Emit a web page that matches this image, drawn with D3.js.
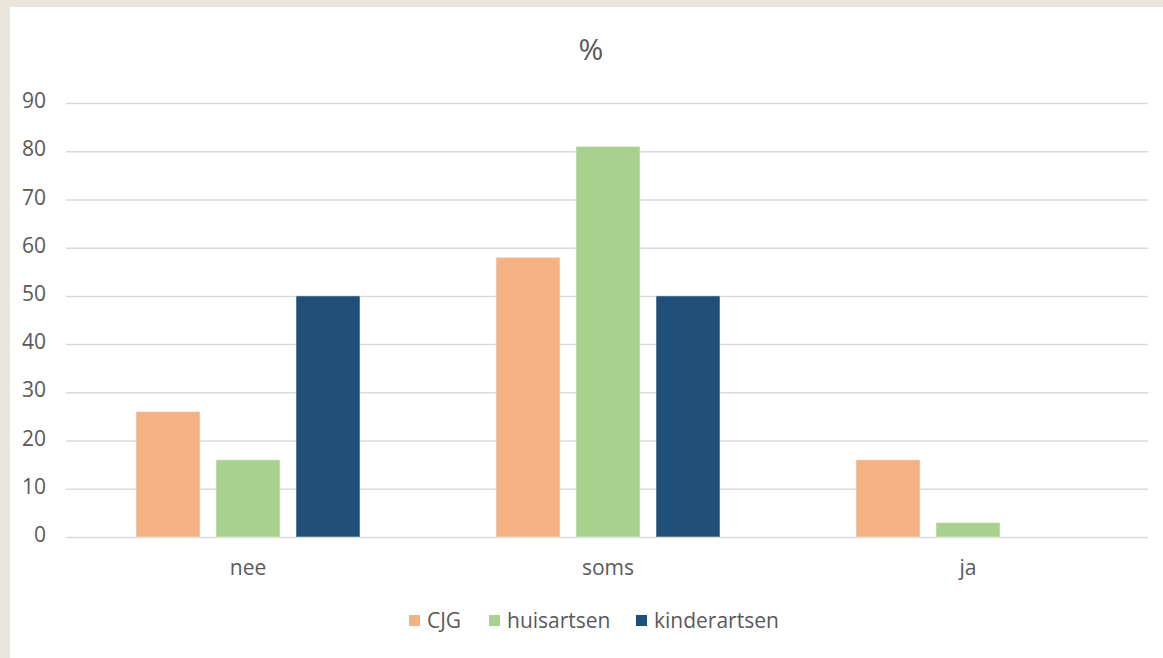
<!DOCTYPE html>
<html>
<head>
<meta charset="utf-8">
<script src="https://cdn.jsdelivr.net/npm/d3@7"></script>
<style>
  html, body { margin: 0; padding: 0; background: #ece5dc; }
  svg { display: block; }
</style>
</head>
<body>
<svg id="chart" width="1163" height="658"></svg>
<script>
  // data
  const categories = ["nee", "soms", "ja"];
  const seriesNames = ["CJG", "huisartsen", "kinderartsen"];
  const cjgValues = [26, 58, 16];
  const huisartsenValues = [16, 81, 3];
  const kinderartsenValues = [50, 50, 0];
  const yTicks = [0, 10, 20, 30, 40, 50, 60, 70, 80, 90];

  const COLORS = {
    CJG: "#f4b183", // orange
    huisartsen: "#a9d18e", // green
    kinderartsen: "#1f4e79", // dark blue
  };
  const TEXT = "#595959";
  const FONT = "'Open Sans', sans-serif";

  const series = [
    { name: "CJG", values: cjgValues },
    { name: "huisartsen", values: huisartsenValues },
    { name: "kinderartsen", values: kinderartsenValues },
  ];

  const svg = d3.select("#chart");

  // white chart panel on beige page
  svg.append("rect")
    .attr("x", 10).attr("y", 7)
    .attr("width", 1163 - 10).attr("height", 658 - 7)
    .attr("fill", "#fff");

  const x0 = d3.scaleBand().domain(categories).range([68, 1148]).padding(0);
  const x1 = d3.scaleBand().domain(seriesNames).range([0, x0.bandwidth()])
    .paddingInner(0.2).paddingOuter(0.85);
  const y = d3.scaleLinear().domain([0, 90]).range([537, 103]);

  // gridlines + y labels
  const yAxis = d3.axisLeft(y).tickValues(yTicks).tickSize(-(1148 - 66));
  const ya = svg.append("g")
    .attr("transform", "translate(66,0)")
    .call(yAxis);
  ya.select(".domain").remove();
  ya.selectAll(".tick line").attr("stroke", "#d9d9d9").attr("stroke-width", 1.5);
  ya.selectAll(".tick text")
    .attr("x", -20)
    .attr("dy", "0.22em")
    .attr("fill", TEXT)
    .style("font-family", FONT)
    .style("font-size", "21px");

  // bars
  const group = svg.append("g")
    .selectAll("g")
    .data(categories)
    .join("g")
    .attr("transform", (d) => `translate(${x0(d)},0)`);

  group.selectAll("rect")
    .data((d, i) => series.map((s) => ({ name: s.name, value: s.values[i] })))
    .join("rect")
    .filter((d) => d.value > 0)
    .attr("x", (d) => x1(d.name))
    .attr("y", (d) => y(d.value))
    .attr("width", x1.bandwidth())
    .attr("height", (d) => y(0) - y(d.value))
    .attr("fill", (d) => COLORS[d.name])
    .attr("stroke", "#fff")
    .attr("stroke-opacity", 0.5)
    .attr("stroke-width", 1);

  // category labels
  const xAxis = d3.axisBottom(x0).tickSize(0).tickPadding(0);
  const xa = svg.append("g")
    .attr("transform", "translate(0,537)")
    .call(xAxis);
  xa.select(".domain").remove();
  xa.selectAll(".tick text")
    .attr("y", 38)
    .attr("dy", 0)
    .attr("fill", TEXT)
    .style("font-family", FONT)
    .style("font-size", "21px");

  // title
  svg.append("text")
    .attr("x", 591).attr("y", 60)
    .attr("text-anchor", "middle")
    .attr("fill", TEXT)
    .style("font-family", FONT)
    .style("font-size", "30px")
    .text("%");

  // legend
  const legendX = [409, 489, 636];
  const legend = svg.append("g")
    .selectAll("g")
    .data(seriesNames)
    .join("g")
    .attr("transform", (d, i) => `translate(${legendX[i]},615)`);
  legend.append("rect")
    .attr("width", 11).attr("height", 11)
    .attr("fill", (d) => COLORS[d]);
  legend.append("text")
    .attr("x", 18).attr("y", 13)
    .attr("fill", TEXT)
    .style("font-family", FONT)
    .style("font-size", "21px")
    .text((d) => d);
</script>
</body>
</html>
